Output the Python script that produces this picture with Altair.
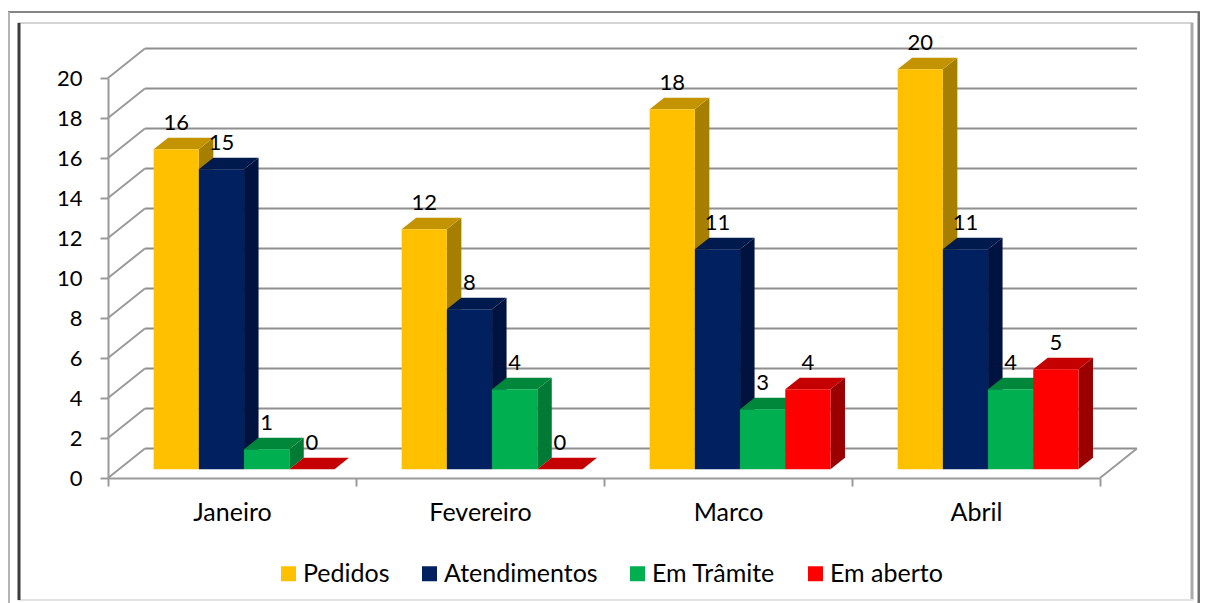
import altair as alt
import pandas as pd

months = ["Janeiro", "Fevereiro", "Marco", "Abril"]
series = ["Pedidos", "Atendimentos", "Em Trâmite", "Em aberto"]
pedidos = [16, 12, 18, 20]
atendimentos = [15, 8, 11, 11]
tramite = [1, 4, 3, 4]
aberto = [0, 0, 4, 5]
values = [pedidos, atendimentos, tramite, aberto]
y_ticks = list(range(0, 21, 2))
front_colors = ["#FFC000", "#002060", "#00B050", "#FF0000"]
top_colors = ["#C39300", "#001A4D", "#008739", "#C40000"]
side_colors = ["#A67E00", "#00123F", "#007A35", "#9A0000"]

FONT = "Lato"
FS = 22
FS_TEXT = 25
LINE = "#9a9a9a"

# geometry in data units (x: one month = 1, y: value units)
BAR_W, BAR_START = 0.1823, 0.184
DEPTH_X, DEPTH_Y = 0.0585, 0.575
LIFT = 0.44
WALL_X, WALL_Y = 0.149, 1.475

XS = alt.Scale(domain=[0, 4], nice=False, zero=False)
YS = alt.Scale(domain=[0, 20], nice=False, zero=False)
YAX = alt.Axis(
    values=y_ticks, title=None, grid=False, tickSize=8, tickWidth=2,
    domainWidth=2, domainColor=LINE, tickColor=LINE, labelFontSize=FS,
    labelFont=FONT, labelColor="#000000", labelPadding=18)


def X(f):
    return alt.X(f, type="quantitative", scale=XS, axis=None)


def Y(f):
    return alt.Y(f, type="quantitative", scale=YS, axis=YAX, stack=None)


dummy = pd.DataFrame({"a": [0]})


def frame_h(y, x1, x2, color, w):
    return alt.Chart(dummy).mark_rule(color=color, strokeWidth=w).encode(
        y=alt.value(y - 78), x=alt.value(x1 - 108), x2=alt.value(x2 - 108))


def frame_v(x, y1, y2, color, w):
    return alt.Chart(dummy).mark_rule(color=color, strokeWidth=w).encode(
        x=alt.value(x - 108), y=alt.value(y1 - 78), y2=alt.value(y2 - 78))


layers = [
    frame_h(12, 8, 1200, "#858585", 2),
    frame_v(9, 12, 603, "#b4b4b4", 2),
    frame_v(1199, 12, 603, "#6e6e6e", 3),
    frame_h(23, 18, 1193, "#d4d4d4", 2),
    frame_v(1192, 23, 600, "#aaaaaa", 3),
    frame_h(600, 18, 1193, "#e2e2e2", 2),
    frame_v(19, 23, 600, "#3c3c3c", 3),
]

# walls
grid = pd.DataFrame({"v": y_ticks})
grid["vb"] = grid["v"] + WALL_Y
grid["x0"] = WALL_X
grid["x1"] = 4 + WALL_X
layers.append(
    alt.Chart(grid).mark_rule(color="#8f8f8f", strokeWidth=2).encode(
        x=X("x0"), x2="x1", y=Y("vb"))
)
rows = []
for v in y_ticks:
    rows.append({"id": v, "x": 0.0, "y": v})
    rows.append({"id": v, "x": WALL_X, "y": v + WALL_Y})
rows.append({"id": 99, "x": 4.0, "y": 0})
rows.append({"id": 99, "x": 4 + WALL_X, "y": WALL_Y})
layers.append(
    alt.Chart(pd.DataFrame(rows)).mark_line(color=LINE, strokeWidth=2).encode(
        x=X("x"), y=Y("y"), detail="id:N")
)
# month axis
layers.append(
    alt.Chart(pd.DataFrame({"m": months})).mark_rule(opacity=0).encode(
        x=alt.X("m:N", sort=None, scale=alt.Scale(type="band", paddingInner=0, paddingOuter=0),
                axis=alt.Axis(title=None, labelAngle=0, tickBand="extent", tickSize=8, tickWidth=2,
                              domainWidth=2, domainColor=LINE, tickColor=LINE, labelFontSize=FS_TEXT,
                              labelFont=FONT, labelColor="#000000", labelPadding=14))
    )
)

for si, name in enumerate(series):
    side, top, front = [], [], []
    for mi, val in enumerate(values[si]):
        a = mi + BAR_START + si * BAR_W
        b = a + BAR_W
        key = f"{mi}"
        side.append({"id": key, "x": b, "y": val + LIFT, "y2": LIFT})
        side.append({"id": key, "x": b + DEPTH_X, "y": val + LIFT + DEPTH_Y, "y2": LIFT + DEPTH_Y})
        top.append({"id": key, "y": val + LIFT, "x": a, "x2": b})
        top.append({"id": key, "y": val + LIFT + DEPTH_Y, "x": a + DEPTH_X, "x2": b + DEPTH_X})
        front.append({"s": name, "a": a, "b": b, "y": val + LIFT, "y2": LIFT, "v": val})
    layers.append(
        alt.Chart(pd.DataFrame(side)).mark_area(orient="vertical", color=side_colors[si]).encode(
            x=X("x"), y=Y("y"), y2="y2", detail="id:N")
    )
    layers.append(
        alt.Chart(pd.DataFrame(top)).mark_area(orient="horizontal", color=top_colors[si]).encode(
            y=Y("y"), x=X("x"), x2="x2", detail="id:N")
    )
    fdf = pd.DataFrame(front)
    layers.append(
        alt.Chart(fdf).mark_bar().encode(
            x=X("a"), x2="b", y=Y("y"), y2="y2",
            color=alt.Color("s:N", scale=alt.Scale(domain=series, range=front_colors), legend=alt.Legend(
                title=None, orient="none", legendX=168, legendY=483, direction="horizontal", columns=4,
                symbolType="square", symbolSize=225, symbolStrokeWidth=0, symbolOpacity=1,
                labelFontSize=FS_TEXT, labelFont=FONT, labelColor="#000000", columnPadding=27,
                labelOffset=2)),
        )
    )

label_rows = []
for si in range(4):
    for mi, val in enumerate(values[si]):
        label_rows.append({"c": mi + BAR_START + si * BAR_W + BAR_W / 2, "y": val + LIFT, "v": val})
layers.append(
    alt.Chart(pd.DataFrame(label_rows)).mark_text(
        font=FONT, fontSize=FS, color="#000000", dy=-26, baseline="middle", align="center"
    ).encode(x=X("c"), y=Y("y"), text="v:Q")
)

chart = (
    alt.layer(*layers)
    .resolve_scale(x="independent")
    .properties(
        width=992,
        height=400,
        background="#ffffff",
        padding={"left": 100, "top": 70, "right": 100, "bottom": 125},
        autosize=alt.AutoSizeParams(type="none"),
    )
    .configure_view(stroke=None)
)
chart.save("out.html", embed_options={"renderer": "svg", "actions": False})
